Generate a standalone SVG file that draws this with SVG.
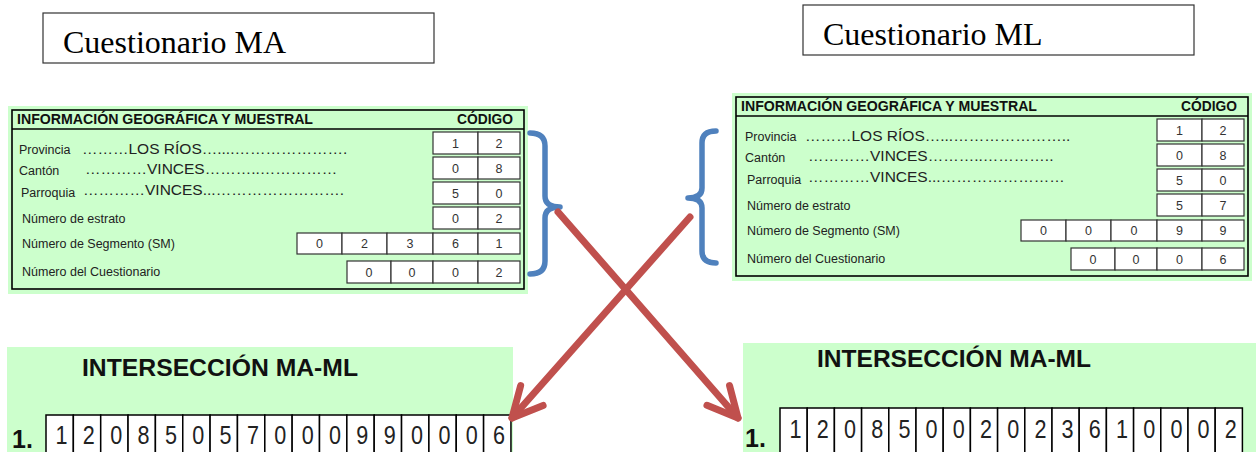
<svg xmlns="http://www.w3.org/2000/svg" width="1256" height="452" viewBox="0 0 1256 452">
<style>
.ttl{font-family:"Liberation Serif","Times New Roman",serif;font-size:32px;fill:#000}
.lbl{font-family:"Liberation Sans",Arial,sans-serif;font-size:12.5px;fill:#222}
.dot{font-family:"Liberation Sans",Arial,sans-serif;font-size:15.5px;fill:#222}
.hdr{font-family:"Liberation Sans",Arial,sans-serif;font-size:15px;font-weight:bold;fill:#111}
.cd{font-family:"Liberation Sans",Arial,sans-serif;font-size:12.5px;fill:#333;text-anchor:middle}
.cb{fill:#fff;stroke:#333;stroke-width:1.2}
.green{fill:#ccffcc}
.frame{fill:none;stroke:#000;stroke-width:1.6}
.big{font-family:"Liberation Sans",Arial,sans-serif;font-weight:bold;fill:#111}
.bd{font-family:"Liberation Sans",Arial,sans-serif;font-size:25px;fill:#222;text-anchor:middle}
.bb{fill:#fff;stroke:#000;stroke-width:1.5}
.brace{fill:none;stroke:#4f81bd;stroke-width:5.5;stroke-linecap:round;stroke-linejoin:round}
.arr{fill:none;stroke:#c0504d;stroke-width:7;stroke-linecap:round}
</style>
<defs>
<marker id="ah" markerUnits="userSpaceOnUse" orient="auto" markerWidth="80" markerHeight="80" viewBox="-40 -40 80 80" refX="0" refY="0" overflow="visible">
<path d="M-30,-15 L0,0 L-30,15" fill="none" stroke="#c0504d" stroke-width="7" stroke-linecap="round" stroke-linejoin="round"/>
</marker>
</defs>

<g id="title-ma">
<rect x="43" y="13" width="391" height="50" fill="#fff" stroke="#333" stroke-width="1.2"/>
<text class="ttl" x="63" y="53">Cuestionario MA</text>
</g>
<g id="title-ml">
<rect x="803" y="5" width="391" height="50" fill="#fff" stroke="#333" stroke-width="1.2"/>
<text class="ttl" x="823" y="45">Cuestionario ML</text>
</g>

<g id="form-ma">
<rect class="green" x="8" y="106" width="520" height="188"/>
<rect class="frame" x="12" y="110" width="512" height="179"/>
<line x1="12" y1="129" x2="524" y2="129" stroke="#000" stroke-width="1.4"/>
<text class="hdr" x="17" y="124" textLength="296" lengthAdjust="spacingAndGlyphs">INFORMACIÓN GEOGRÁFICA Y MUESTRAL</text>
<text class="hdr" x="457" y="124" textLength="56" lengthAdjust="spacingAndGlyphs">CÓDIGO</text>
<text class="lbl" x="19" y="154">Provincia</text>
<text class="dot" x="82" y="154">………LOS RÍOS…....………………….</text>
<text class="lbl" x="19" y="175">Cantón</text>
<text class="dot" x="85" y="174">…………VINCES………..……………</text>
<text class="lbl" x="21" y="197">Parroquia</text>
<text class="dot" x="83" y="195">…………VINCES...…………………….</text>
<text class="lbl" x="22" y="223">Número de estrato</text>
<text class="lbl" x="22" y="248">Número de Segmento (SM)</text>
<text class="lbl" x="22" y="276">Número del Cuestionario</text>
<rect class="cb" x="433" y="132" width="45" height="22"/><rect class="cb" x="478" y="132" width="42" height="22"/>
<text class="cd" x="455.5" y="147.5">1</text><text class="cd" x="499" y="147.5">2</text>
<rect class="cb" x="433" y="157" width="45" height="22"/><rect class="cb" x="478" y="157" width="42" height="22"/>
<text class="cd" x="455.5" y="172.5">0</text><text class="cd" x="499" y="172.5">8</text>
<rect class="cb" x="433" y="182" width="45" height="22"/><rect class="cb" x="478" y="182" width="42" height="22"/>
<text class="cd" x="455.5" y="197.5">5</text><text class="cd" x="499" y="197.5">0</text>
<rect class="cb" x="433" y="207" width="45" height="22"/><rect class="cb" x="478" y="207" width="42" height="22"/>
<text class="cd" x="455.5" y="222.5">0</text><text class="cd" x="499" y="222.5">2</text>
<rect class="cb" x="297" y="233" width="45" height="21"/><rect class="cb" x="342" y="233" width="45" height="21"/><rect class="cb" x="387" y="233" width="46" height="21"/><rect class="cb" x="433" y="233" width="45" height="21"/><rect class="cb" x="478" y="233" width="42" height="21"/>
<text class="cd" x="319.5" y="248">0</text><text class="cd" x="364.5" y="248">2</text><text class="cd" x="410" y="248">3</text><text class="cd" x="455.5" y="248">6</text><text class="cd" x="499" y="248">1</text>
<rect class="cb" x="347" y="261" width="44" height="22"/><rect class="cb" x="391" y="261" width="42" height="22"/><rect class="cb" x="433" y="261" width="45" height="22"/><rect class="cb" x="478" y="261" width="42" height="22"/>
<text class="cd" x="369" y="276.5">0</text><text class="cd" x="412" y="276.5">0</text><text class="cd" x="455.5" y="276.5">0</text><text class="cd" x="499" y="276.5">2</text>
</g>

<g id="form-ml" transform="translate(724,-13)">
<rect class="green" x="8" y="106" width="520" height="188"/>
<rect class="frame" x="12" y="110" width="512" height="179"/>
<line x1="12" y1="129" x2="524" y2="129" stroke="#000" stroke-width="1.4"/>
<text class="hdr" x="17" y="124" textLength="296" lengthAdjust="spacingAndGlyphs">INFORMACIÓN GEOGRÁFICA Y MUESTRAL</text>
<text class="hdr" x="457" y="124" textLength="56" lengthAdjust="spacingAndGlyphs">CÓDIGO</text>
<text class="lbl" x="21" y="154">Provincia</text>
<text class="dot" x="81" y="154">………LOS RÍOS…...…………………..</text>
<text class="lbl" x="21" y="175">Cantón</text>
<text class="dot" x="84" y="174">…………VINCES………..…………..</text>
<text class="lbl" x="23" y="197">Parroquia</text>
<text class="dot" x="84" y="195">…………VINCES...……………………</text>
<text class="lbl" x="23" y="223">Número de estrato</text>
<text class="lbl" x="23" y="248">Número de Segmento (SM)</text>
<text class="lbl" x="23" y="276">Número del Cuestionario</text>
<rect class="cb" x="433" y="132" width="45" height="22"/><rect class="cb" x="478" y="132" width="42" height="22"/>
<text class="cd" x="455.5" y="147.5">1</text><text class="cd" x="499" y="147.5">2</text>
<rect class="cb" x="433" y="157" width="45" height="22"/><rect class="cb" x="478" y="157" width="42" height="22"/>
<text class="cd" x="455.5" y="172.5">0</text><text class="cd" x="499" y="172.5">8</text>
<rect class="cb" x="433" y="182" width="45" height="22"/><rect class="cb" x="478" y="182" width="42" height="22"/>
<text class="cd" x="455.5" y="197.5">5</text><text class="cd" x="499" y="197.5">0</text>
<rect class="cb" x="433" y="207" width="45" height="22"/><rect class="cb" x="478" y="207" width="42" height="22"/>
<text class="cd" x="455.5" y="222.5">5</text><text class="cd" x="499" y="222.5">7</text>
<rect class="cb" x="297" y="233" width="45" height="21"/><rect class="cb" x="342" y="233" width="45" height="21"/><rect class="cb" x="387" y="233" width="46" height="21"/><rect class="cb" x="433" y="233" width="45" height="21"/><rect class="cb" x="478" y="233" width="42" height="21"/>
<text class="cd" x="319.5" y="248">0</text><text class="cd" x="364.5" y="248">0</text><text class="cd" x="410" y="248">0</text><text class="cd" x="455.5" y="248">9</text><text class="cd" x="499" y="248">9</text>
<rect class="cb" x="347" y="261" width="44" height="22"/><rect class="cb" x="391" y="261" width="42" height="22"/><rect class="cb" x="433" y="261" width="45" height="22"/><rect class="cb" x="478" y="261" width="42" height="22"/>
<text class="cd" x="369" y="276.5">0</text><text class="cd" x="412" y="276.5">0</text><text class="cd" x="455.5" y="276.5">0</text><text class="cd" x="499" y="276.5">6</text>
</g>

<g id="result-left">
<rect class="green" x="7" y="347" width="506" height="110"/>
<text class="big" x="82" y="376" font-size="24.5" textLength="276" lengthAdjust="spacingAndGlyphs">INTERSECCIÓN MA-ML</text>
<text class="big" x="12" y="448" font-size="25">1.</text>
<g transform="translate(46,415)">
<rect class="bb" x="0" y="0" width="27.35" height="45"/><rect class="bb" x="27.35" y="0" width="27.35" height="45"/><rect class="bb" x="54.7" y="0" width="27.35" height="45"/><rect class="bb" x="82.05" y="0" width="27.35" height="45"/><rect class="bb" x="109.4" y="0" width="27.35" height="45"/><rect class="bb" x="136.75" y="0" width="27.35" height="45"/><rect class="bb" x="164.1" y="0" width="27.35" height="45"/><rect class="bb" x="191.45" y="0" width="27.35" height="45"/><rect class="bb" x="218.8" y="0" width="27.35" height="45"/><rect class="bb" x="246.15" y="0" width="27.35" height="45"/><rect class="bb" x="273.5" y="0" width="27.35" height="45"/><rect class="bb" x="300.85" y="0" width="27.35" height="45"/><rect class="bb" x="328.2" y="0" width="27.35" height="45"/><rect class="bb" x="355.55" y="0" width="27.35" height="45"/><rect class="bb" x="382.9" y="0" width="27.35" height="45"/><rect class="bb" x="410.25" y="0" width="27.35" height="45"/><rect class="bb" x="437.6" y="0" width="27.35" height="45"/>
<text class="bd" y="29" x="15.5" textLength="12" lengthAdjust="spacingAndGlyphs">1</text>
<text class="bd" y="29" x="42.85" textLength="12" lengthAdjust="spacingAndGlyphs">2</text>
<text class="bd" y="29" x="70.2" textLength="12" lengthAdjust="spacingAndGlyphs">0</text>
<text class="bd" y="29" x="97.55" textLength="12" lengthAdjust="spacingAndGlyphs">8</text>
<text class="bd" y="29" x="124.9" textLength="12" lengthAdjust="spacingAndGlyphs">5</text>
<text class="bd" y="29" x="152.25" textLength="12" lengthAdjust="spacingAndGlyphs">0</text>
<text class="bd" y="29" x="179.6" textLength="12" lengthAdjust="spacingAndGlyphs">5</text>
<text class="bd" y="29" x="206.95" textLength="12" lengthAdjust="spacingAndGlyphs">7</text>
<text class="bd" y="29" x="234.3" textLength="12" lengthAdjust="spacingAndGlyphs">0</text>
<text class="bd" y="29" x="261.65" textLength="12" lengthAdjust="spacingAndGlyphs">0</text>
<text class="bd" y="29" x="289" textLength="12" lengthAdjust="spacingAndGlyphs">0</text>
<text class="bd" y="29" x="316.35" textLength="12" lengthAdjust="spacingAndGlyphs">9</text>
<text class="bd" y="29" x="343.7" textLength="12" lengthAdjust="spacingAndGlyphs">9</text>
<text class="bd" y="29" x="371.05" textLength="12" lengthAdjust="spacingAndGlyphs">0</text>
<text class="bd" y="29" x="398.4" textLength="12" lengthAdjust="spacingAndGlyphs">0</text>
<text class="bd" y="29" x="425.75" textLength="12" lengthAdjust="spacingAndGlyphs">0</text>
<text class="bd" y="29" x="453.1" textLength="12" lengthAdjust="spacingAndGlyphs">6</text>
</g>
</g>

<g id="result-right">
<rect class="green" x="743" y="343" width="515" height="115"/>
<text class="big" x="817" y="367" font-size="24.5" textLength="274" lengthAdjust="spacingAndGlyphs">INTERSECCIÓN MA-ML</text>
<text class="big" x="745" y="447" font-size="25">1.</text>
<g transform="translate(780,408)">
<rect class="bb" x="0" y="0" width="27.2" height="50"/><rect class="bb" x="27.2" y="0" width="27.2" height="50"/><rect class="bb" x="54.4" y="0" width="27.2" height="50"/><rect class="bb" x="81.6" y="0" width="27.2" height="50"/><rect class="bb" x="108.8" y="0" width="27.2" height="50"/><rect class="bb" x="136" y="0" width="27.2" height="50"/><rect class="bb" x="163.2" y="0" width="27.2" height="50"/><rect class="bb" x="190.4" y="0" width="27.2" height="50"/><rect class="bb" x="217.6" y="0" width="27.2" height="50"/><rect class="bb" x="244.8" y="0" width="27.2" height="50"/><rect class="bb" x="272" y="0" width="27.2" height="50"/><rect class="bb" x="299.2" y="0" width="27.2" height="50"/><rect class="bb" x="326.4" y="0" width="27.2" height="50"/><rect class="bb" x="353.6" y="0" width="27.2" height="50"/><rect class="bb" x="380.8" y="0" width="27.2" height="50"/><rect class="bb" x="408" y="0" width="27.2" height="50"/><rect class="bb" x="435.2" y="0" width="27.2" height="50"/>
<text class="bd" y="30" x="15.6" textLength="12" lengthAdjust="spacingAndGlyphs">1</text>
<text class="bd" y="30" x="42.8" textLength="12" lengthAdjust="spacingAndGlyphs">2</text>
<text class="bd" y="30" x="70" textLength="12" lengthAdjust="spacingAndGlyphs">0</text>
<text class="bd" y="30" x="97.2" textLength="12" lengthAdjust="spacingAndGlyphs">8</text>
<text class="bd" y="30" x="124.4" textLength="12" lengthAdjust="spacingAndGlyphs">5</text>
<text class="bd" y="30" x="151.6" textLength="12" lengthAdjust="spacingAndGlyphs">0</text>
<text class="bd" y="30" x="178.8" textLength="12" lengthAdjust="spacingAndGlyphs">0</text>
<text class="bd" y="30" x="206" textLength="12" lengthAdjust="spacingAndGlyphs">2</text>
<text class="bd" y="30" x="233.2" textLength="12" lengthAdjust="spacingAndGlyphs">0</text>
<text class="bd" y="30" x="260.4" textLength="12" lengthAdjust="spacingAndGlyphs">2</text>
<text class="bd" y="30" x="287.6" textLength="12" lengthAdjust="spacingAndGlyphs">3</text>
<text class="bd" y="30" x="314.8" textLength="12" lengthAdjust="spacingAndGlyphs">6</text>
<text class="bd" y="30" x="342" textLength="12" lengthAdjust="spacingAndGlyphs">1</text>
<text class="bd" y="30" x="369.2" textLength="12" lengthAdjust="spacingAndGlyphs">0</text>
<text class="bd" y="30" x="396.4" textLength="12" lengthAdjust="spacingAndGlyphs">0</text>
<text class="bd" y="30" x="423.6" textLength="12" lengthAdjust="spacingAndGlyphs">0</text>
<text class="bd" y="30" x="450.8" textLength="12" lengthAdjust="spacingAndGlyphs">2</text>
</g>
</g>

<g id="connectors">
<path class="brace" d="M530,133 Q545,133 545,146 L545,196 Q545,207 560,207 Q545,207 545,218 L545,261 Q545,274 530,274"/>
<path class="brace" d="M716,131 Q702,131 702,143 L702,188 Q702,198 688,198 Q702,198 702,208 L702,251 Q702,263 716,263"/>
<line class="arr" x1="558" y1="212" x2="738" y2="418" marker-end="url(#ah)"/>
<line class="arr" x1="690" y1="217" x2="512" y2="418" marker-end="url(#ah)"/>
</g>
</svg>
